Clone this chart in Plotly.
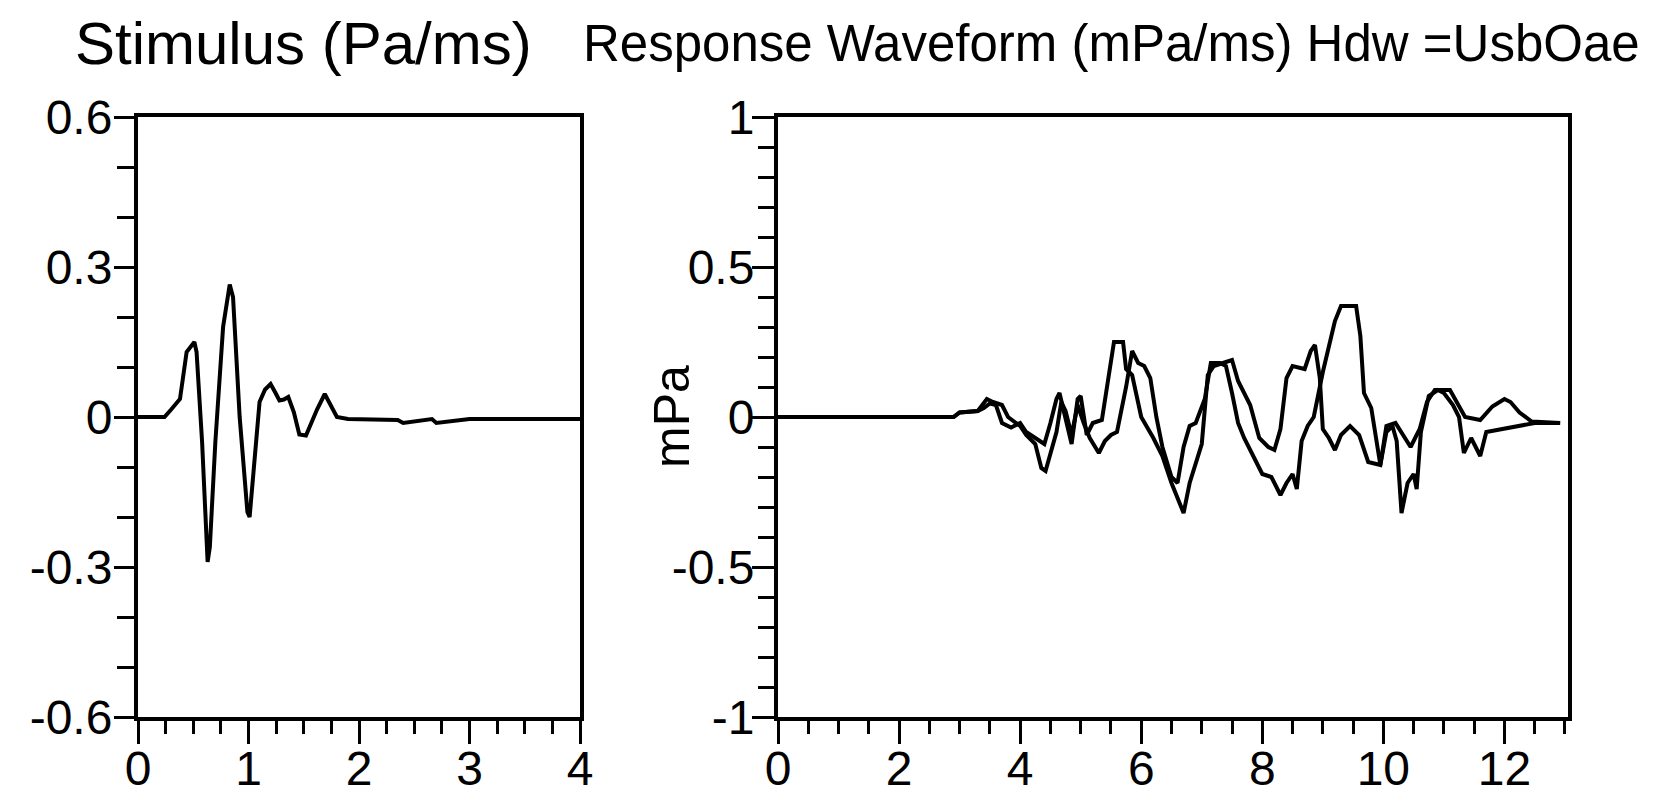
import plotly.graph_objects as go

# ---- stimulus waveform (Pa/ms) ----
stim_t = [0, 0.10, 0.24, 0.30, 0.38, 0.44, 0.48, 0.51, 0.53, 0.58, 0.63, 0.65, 0.70, 0.77,
          0.83, 0.86, 0.92, 0.99, 1.01, 1.05, 1.10, 1.15, 1.20, 1.24, 1.28, 1.32, 1.36,
          1.41, 1.46, 1.52, 1.57, 1.62, 1.69, 1.75, 1.80, 1.90, 2.35, 2.40, 2.66, 2.70,
          3.00, 4.00]
stim_v = [0, 0, 0, 0.015, 0.036, 0.13, 0.14, 0.15, 0.13, -0.05, -0.29, -0.26, -0.05, 0.18,
          0.265, 0.24, 0.0, -0.19, -0.20, -0.10, 0.03, 0.055, 0.066, 0.05, 0.033, 0.035,
          0.04, 0.01, -0.035, -0.037, -0.01, 0.015, 0.046, 0.02, 0.0, -0.004, -0.006,
          -0.012, -0.004, -0.012, -0.004, -0.004]

# ---- response waveform, two recordings (mPa/ms) ----
resp1_t = [0, 2.90, 3.00, 3.30, 3.45, 3.55, 3.70, 3.80, 4.00, 4.10, 4.25, 4.35, 4.42, 4.50,
           4.60, 4.68, 4.75, 4.85, 4.95, 5.05, 5.15, 5.30, 5.40, 5.50, 5.60, 5.75, 5.85,
           5.95, 6.05, 6.15, 6.25, 6.35, 6.50, 6.60, 6.70, 6.80, 6.90, 7.05, 7.15, 7.30,
           7.40, 7.50, 7.60, 7.70, 7.85, 8.00, 8.15, 8.30, 8.40, 8.50, 8.57, 8.65, 8.75,
           8.85, 9.00, 9.10, 9.20, 9.30, 9.55, 9.62, 9.68, 9.80, 9.90, 9.95, 10.05, 10.15,
           10.22, 10.30, 10.40, 10.50, 10.55, 10.62, 10.75, 10.90, 11.00, 11.15, 11.25,
           11.33, 11.45, 11.60, 11.70, 11.85, 12.00, 12.20, 12.50, 12.92]
resp1_v = [0, 0, 0.015, 0.02, 0.06, 0.05, 0.04, 0.0, -0.03, -0.06, -0.09, -0.17, -0.18,
           -0.12, -0.05, 0.05, 0.02, -0.06, 0.04, -0.02, -0.07, -0.12, -0.08, -0.06, -0.05,
           0.10, 0.22, 0.18, 0.17, 0.13, 0.0, -0.10, -0.20, -0.22, -0.10, -0.03, -0.02,
           0.06, 0.18, 0.18, 0.17, 0.08, -0.02, -0.07, -0.13, -0.19, -0.20, -0.26, -0.22,
           -0.19, -0.24, -0.08, -0.03, 0.0, 0.15, 0.24, 0.32, 0.37, 0.37, 0.27, 0.08, 0.03,
           -0.10, -0.16, -0.05, -0.03, -0.08, -0.32, -0.22, -0.19, -0.24, -0.05, 0.07, 0.09,
           0.08, 0.04, 0.0, -0.12, -0.07, -0.13, -0.05, -0.045, -0.04, -0.03, -0.02, -0.02]

resp2_t = [0, 2.90, 3.00, 3.30, 3.40, 3.50, 3.60, 3.70, 3.85, 4.00, 4.10, 4.25, 4.40, 4.50,
           4.60, 4.65, 4.75, 4.85, 4.95, 5.00, 5.10, 5.20, 5.35, 5.45, 5.55, 5.70, 5.75,
           5.85, 6.00, 6.20, 6.35, 6.50, 6.70, 6.80, 6.90, 7.00, 7.10, 7.20, 7.35, 7.50,
           7.60, 7.70, 7.80, 7.95, 8.10, 8.20, 8.30, 8.40, 8.50, 8.70, 8.80, 8.87, 8.95,
           9.00, 9.10, 9.20, 9.30, 9.45, 9.60, 9.75, 9.95, 10.05, 10.20, 10.45, 10.60,
           10.72, 10.85, 11.10, 11.35, 11.60, 11.80, 12.00, 12.10, 12.25, 12.45, 12.92]
resp2_v = [0, 0, 0.015, 0.02, 0.03, 0.045, 0.04, -0.02, -0.035, -0.02, -0.05, -0.07, -0.09,
           -0.02, 0.06, 0.08, 0.0, -0.09, 0.06, 0.07, -0.06, -0.02, -0.01, 0.12, 0.25, 0.25,
           0.16, 0.14, 0.0, -0.07, -0.13, -0.22, -0.32, -0.22, -0.15, -0.09, 0.14, 0.17,
           0.18, 0.19, 0.12, 0.08, 0.04, -0.07, -0.10, -0.11, -0.04, 0.13, 0.17, 0.16, 0.22,
           0.24, 0.13, -0.04, -0.07, -0.11, -0.06, -0.03, -0.06, -0.15, -0.16, -0.03, -0.02,
           -0.10, -0.04, 0.05, 0.09, 0.09, 0.0, -0.01, 0.035, 0.06, 0.05, 0.015, -0.015,
           -0.02]

stim_yticks = [-0.6, -0.3, 0, 0.3, 0.6]
stim_ylabels = ["-0.6", "-0.3", "0", "0.3", "0.6"]
stim_xticks = [0, 1, 2, 3, 4]
resp_yticks = [-1, -0.5, 0, 0.5, 1]
resp_ylabels = ["-1", "-0.5", "0", "0.5", "1"]
resp_xticks = [0, 2, 4, 6, 8, 10, 12]

W, H = 1654, 796
FONT = "Liberation Sans, Arial, sans-serif"
INK = "black"


def px_x(p):
    return p / W


def px_y(p):
    return 1 - p / H


fig = go.Figure()
line = dict(color=INK, width=4)
fig.add_trace(go.Scatter(x=stim_t, y=stim_v, mode="lines", line=line,
                         xaxis="x", yaxis="y", showlegend=False))
fig.add_trace(go.Scatter(x=resp1_t, y=resp1_v, mode="lines", line=line,
                         xaxis="x2", yaxis="y2", showlegend=False))
fig.add_trace(go.Scatter(x=resp2_t, y=resp2_v, mode="lines", line=line,
                         xaxis="x2", yaxis="y2", showlegend=False))

frame = dict(showline=True, linecolor=INK, linewidth=4, mirror=True, automargin=False,
             showgrid=False, zeroline=False, ticks="outside", tickcolor=INK,
             tickwidth=3, tickfont=dict(family=FONT, size=48, color=INK))
ydom = [px_y(717), px_y(117)]

fig.update_layout(
    width=W, height=H,
    margin=dict(l=0, r=0, t=0, b=0, autoexpand=False),
    paper_bgcolor="white", plot_bgcolor="white",
    xaxis=dict(frame, domain=[px_x(138), px_x(580)], range=[0, 4], anchor="y",
               tickmode="array", tickvals=stim_xticks, ticklen=23, ticklabelstandoff=-17,
               minor=dict(tickmode="linear", tick0=0, dtick=0.25, ticks="outside",
                          ticklen=13, tickwidth=3, tickcolor=INK, showgrid=False)),
    yaxis=dict(frame, domain=ydom, range=[-0.6, 0.6], anchor="x",
               tickmode="array", tickvals=stim_yticks, ticktext=stim_ylabels, ticklen=20,
               ticklabelstandoff=-8,
               minor=dict(tickmode="linear", tick0=0, dtick=0.1, ticks="outside",
                          ticklen=17, tickwidth=3, tickcolor=INK, showgrid=False)),
    xaxis2=dict(frame, domain=[px_x(778), px_x(1568)], range=[0, 13.05], anchor="y2",
                tickmode="array", tickvals=resp_xticks, ticklen=23, ticklabelstandoff=-17,
                minor=dict(tickmode="linear", tick0=0, dtick=0.5, ticks="outside",
                           ticklen=13, tickwidth=3, tickcolor=INK, showgrid=False)),
    yaxis2=dict(frame, domain=ydom, range=[-1, 1], anchor="x2",
                tickmode="array", tickvals=resp_yticks, ticktext=resp_ylabels, ticklen=22,
                ticklabelstandoff=-12,
                minor=dict(tickmode="linear", tick0=0, dtick=0.1, ticks="outside",
                           ticklen=16, tickwidth=3, tickcolor=INK, showgrid=False)),
)

fig.add_annotation(text="Stimulus (Pa/ms)", xref="paper", yref="paper",
                   x=px_x(73), y=px_y(43), xanchor="left", yanchor="middle",
                   showarrow=False, font=dict(family=FONT, size=60, color=INK))
fig.add_annotation(text="Response Waveform (mPa/ms) Hdw =UsbOae", xref="paper", yref="paper",
                   x=px_x(581), y=px_y(43), xanchor="left", yanchor="middle",
                   showarrow=False, font=dict(family=FONT, size=51, color=INK))
fig.add_annotation(text="mPa", xref="paper", yref="paper", textangle=-90,
                   x=px_x(672), y=px_y(417), xanchor="center", yanchor="middle",
                   showarrow=False, font=dict(family=FONT, size=50, color=INK))

fig.write_html("out.html")
